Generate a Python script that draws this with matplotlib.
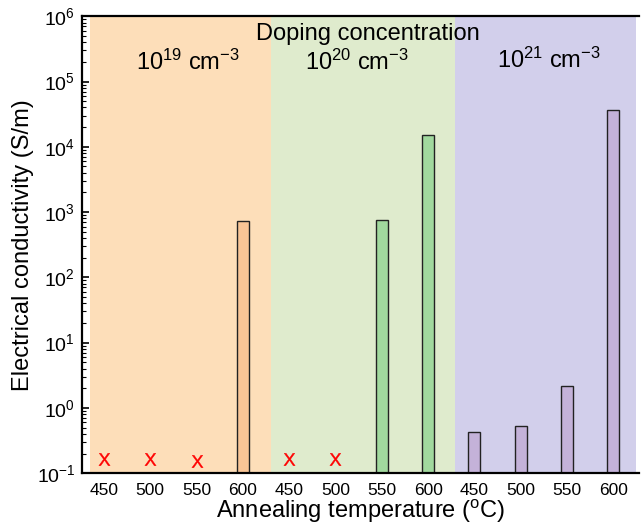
#!/usr/bin/env python3
import numpy as np
import matplotlib
matplotlib.use("Agg")
import matplotlib.pyplot as plt
from matplotlib.ticker import LogLocator, NullFormatter

plt.rcParams["font.family"] = ["Liberation Sans", "DejaVu Sans"]
plt.rcParams["mathtext.fontset"] = "custom"
plt.rcParams["mathtext.rm"] = "Liberation Sans"
plt.rcParams["mathtext.it"] = "Liberation Sans"
plt.rcParams["mathtext.default"] = "regular"

# data
temps = ["450", "500", "550", "600"] * 3
doping = ["10$^{19}$ cm$^{-3}$", "10$^{20}$ cm$^{-3}$", "10$^{21}$ cm$^{-3}$"]
conductivity = [np.nan, np.nan, np.nan, 740,
                np.nan, np.nan, 750, 15000,
                0.42, 0.52, 2.2, 37000]
failed_idx = [0, 1, 2, 4, 5]
failed_y = [0.165, 0.165, 0.155, 0.165, 0.165]

bg_colors = ["#FDDEB9", "#DFEBCD", "#D2CFEB"]
bar_colors = ["#F9C596", "#A1D99E", "#C4B2D9"]


def main():
    fig = plt.figure(figsize=(6.42, 5.24), dpi=100)
    ax = fig.add_axes([0.128, 0.097, 0.867, 0.872])

    x = np.arange(len(temps))
    spans = [(-0.30, 3.61), (3.61, 7.59), (7.59, 11.48)]
    for (a, b), c in zip(spans, bg_colors):
        ax.axvspan(a, b, color=c, lw=0, zorder=0)

    colors = [bar_colors[i // 4] for i in range(len(temps))]
    ax.bar(x, conductivity, width=0.26, color=colors, edgecolor="#222222",
           linewidth=1.0, zorder=2)
    ax.scatter(failed_idx, failed_y, marker="$X$", s=80, color="red",
               linewidths=0.3, zorder=3)

    ax.set_yscale("log")
    ax.set_ylim(1e-1, 1e6)
    ax.set_xlim(-0.47, 11.55)
    ax.set_yticks([10.0 ** k for k in range(-1, 7)])
    ax.set_yticklabels(["10$^{%d}$" % k for k in range(-1, 7)])
    ax.yaxis.set_minor_locator(LogLocator(base=10, subs=np.arange(2, 10), numticks=20))
    ax.yaxis.set_minor_formatter(NullFormatter())
    ax.tick_params(axis="y", which="major", direction="in", length=5, width=1.2,
                   labelsize=14, pad=5)
    ax.tick_params(axis="y", which="minor", direction="in", length=3, width=0.8)
    ax.set_xticks(x)
    ax.set_xticklabels(temps)
    ax.tick_params(axis="x", length=0, labelsize=12.5, pad=7)

    for s in ["left", "bottom", "top"]:
        ax.spines[s].set_linewidth(1.6)
    ax.spines["right"].set_visible(False)

    ax.set_xlabel("Annealing temperature ($^{o}$C)", fontsize=17, labelpad=0)
    ax.set_ylabel("Electrical conductivity (S/m)", fontsize=17, labelpad=2)

    ax.text(5.70, 5.4e5, "Doping concentration", fontsize=17, ha="center", va="center")
    label_x = [1.81, 5.46, 9.61]
    label_y = [1.95e5, 1.95e5, 2.1e5]
    for lx, ly, lab in zip(label_x, label_y, doping):
        ax.text(lx, ly, lab, fontsize=17, ha="center", va="center")

    plt.savefig("out.png", dpi=100)


if __name__ == "__main__":
    main()
